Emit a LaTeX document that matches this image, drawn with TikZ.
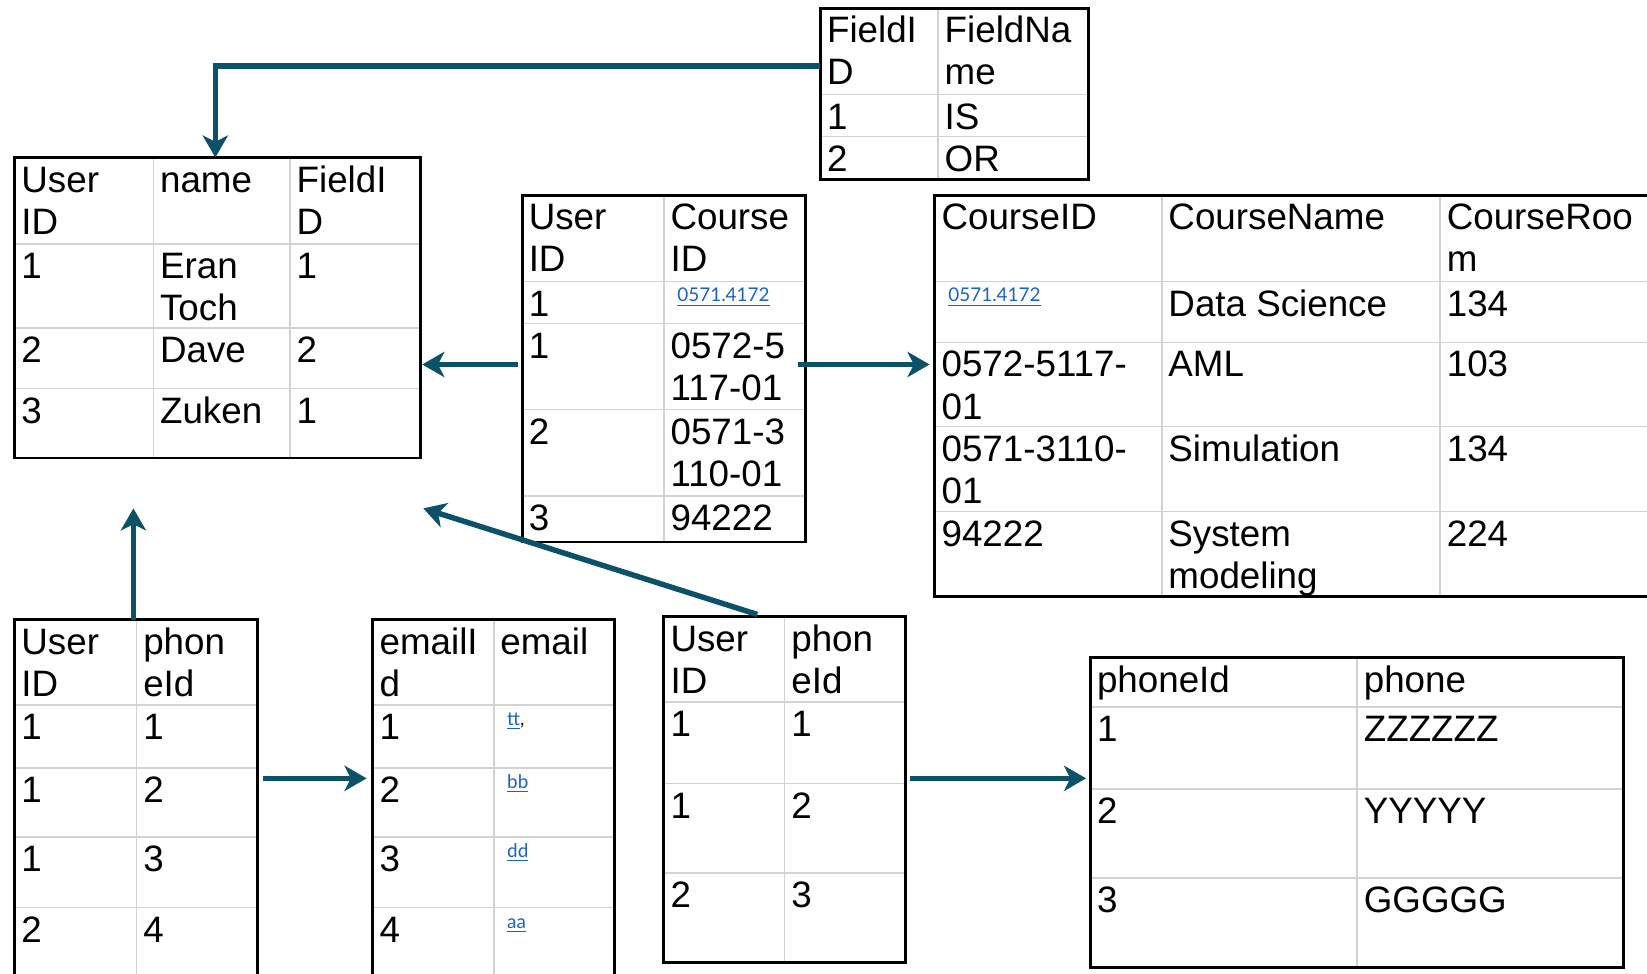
\documentclass[tikz,border=0pt]{standalone}
\usepackage{fontspec}
\setmainfont{Liberation Sans}
\newfontfamily\linkfont{Lato}
\usetikzlibrary{arrows.meta}
\definecolor{fkcol}{HTML}{0B5268}
\definecolor{gridgray}{HTML}{D3D3D3}
\definecolor{linkblue}{HTML}{1A62C8}
\newcommand\cellfont{\fontsize{17.5}{20}\selectfont}
% table cell: column left edge, row top edge, text
\newcommand\tcell[4]{\node[cell] (#1) at ({#2+6},{#3+4.5}) {\strut #4};}
% hyperlink-style cell entry
\newcommand\tlink[4]{\node[linkcell] (#1) at ({#2+12.5},{#3+19.5}) {#4};}
\newcommand\lnk[1]{{\color{linkblue}\underline{#1}}}
\tikzset{
  cell/.style={anchor=north west, inner sep=0pt, align=left, font=\cellfont},
  linkcell/.style={anchor=base west, inner sep=0pt, font=\linkfont\fontsize{9}{11}\selectfont},
  gridline/.style={draw=gridgray, line width=0.8pt},
  tblframe/.style={draw=black, line width=1.4pt},
  fk/.style={draw=fkcol, line width=2.6pt, -{Stealth[length=10.5pt,width=12pt,inset=3pt]}},
}
\begin{document}
\begin{tikzpicture}[x=0.5pt,y=-0.5pt]
\useasboundingbox (0,0) rectangle (1568,927);

% ---------- Fields ----------
\draw[gridline] (893,8) -- (893,171) (781,90) -- (1036,90) (781,130) -- (1036,130);
\draw[tblframe] (781,8) rectangle (1036,171);
\tcell{fa1}{781}{8}{FieldI\\D}   \tcell{fb1}{893}{8}{FieldNa\\me}
\tcell{fa2}{781}{90}{1}          \tcell{fb2}{893}{90}{IS}
\tcell{fa3}{781}{130}{2}         \tcell{fb3}{893}{130}{OR}

% ---------- Users ----------
\draw[gridline] (146,150) -- (146,436) (276,150) -- (276,436)
  (14,232) -- (400,232) (14,312) -- (400,312) (14,370) -- (400,370);
\draw[tblframe] (14,150) rectangle (400,436);
\tcell{ua1}{14}{150}{User\\ID} \tcell{ub1}{146}{150}{name}       \tcell{uc1}{276}{150}{FieldI\\D}
\tcell{ua2}{14}{232}{1}        \tcell{ub2}{146}{232}{Eran\\Toch} \tcell{uc2}{276}{232}{1}
\tcell{ua3}{14}{312}{2}        \tcell{ub3}{146}{312}{Dave}       \tcell{uc3}{276}{312}{2}
\tcell{ua4}{14}{370}{3}        \tcell{ub4}{146}{370}{Zuken}      \tcell{uc4}{276}{370}{1}

% ---------- Enrollment ----------
\draw[gridline] (632,186) -- (632,516)
  (497,268) -- (767,268) (497,308) -- (767,308) (497,390) -- (767,390) (497,472) -- (767,472);
\draw[tblframe] (497,186) rectangle (767,516);
\tcell{ea1}{497}{186}{User\\ID} \tcell{eb1}{632}{186}{Course\\ID}
\tcell{ea2}{497}{268}{1}        \tlink{eb2}{632}{268}{\lnk{0571.4172}}
\tcell{ea3}{497}{308}{1}        \tcell{eb3}{632}{308}{0572-5\\117-01}
\tcell{ea4}{497}{390}{2}        \tcell{eb4}{632}{390}{0571-3\\110-01}
\tcell{ea5}{497}{472}{3}        \tcell{eb5}{632}{472}{94222}

% ---------- Courses ----------
\draw[gridline] (1106,186) -- (1106,568) (1371,186) -- (1371,568)
  (890,268) -- (1568,268) (890,326) -- (1568,326) (890,406) -- (1568,406) (890,487) -- (1568,487);
\draw[tblframe] (1580,186) -- (890,186) -- (890,568) -- (1580,568);
\tcell{ca1}{890}{186}{CourseID}       \tcell{cb1}{1106}{186}{CourseName}      \tcell{cc1}{1371}{186}{CourseRoo\\m}
\tlink{ca2}{890}{268}{\lnk{0571.4172}} \tcell{cb2}{1106}{268}{Data Science}   \tcell{cc2}{1371}{268}{134}
\tcell{ca3}{890}{326}{0572-5117-\\01} \tcell{cb3}{1106}{326}{AML}             \tcell{cc3}{1371}{326}{103}
\tcell{ca4}{890}{406}{0571-3110-\\01} \tcell{cb4}{1106}{406}{Simulation}      \tcell{cc4}{1371}{406}{134}
\tcell{ca5}{890}{487}{94222}          \tcell{cb5}{1106}{487}{System\\modeling} \tcell{cc5}{1371}{487}{224}

% ---------- User phones ----------
\draw[gridline] (130,590) -- (130,940)
  (14,671) -- (245,671) (14,731) -- (245,731) (14,797) -- (245,797) (14,864) -- (245,864);
\draw[tblframe] (14,940) -- (14,590) -- (245,590) -- (245,940);
\tcell{pa1}{14}{590}{User\\ID} \tcell{pb1}{130}{590}{phon\\eId}
\tcell{pa2}{14}{671}{1}        \tcell{pb2}{130}{671}{1}
\tcell{pa3}{14}{731}{1}        \tcell{pb3}{130}{731}{2}
\tcell{pa4}{14}{797}{1}        \tcell{pb4}{130}{797}{3}
\tcell{pa5}{14}{864}{2}        \tcell{pb5}{130}{864}{4}

% ---------- Emails ----------
\draw[gridline] (470,590) -- (470,940)
  (355,671) -- (585,671) (355,731) -- (585,731) (355,797) -- (585,797) (355,864) -- (585,864);
\draw[tblframe] (355,940) -- (355,590) -- (585,590) -- (585,940);
\tcell{ma1}{355}{590}{emailI\\d} \tcell{mb1}{470}{590}{email}
\tcell{ma2}{355}{671}{1}         \tlink{mb2}{470}{671}{\lnk{tt},}
\tcell{ma3}{355}{731}{2}         \tlink{mb3}{470}{731}{\lnk{bb}}
\tcell{ma4}{355}{797}{3}         \tlink{mb4}{470}{797}{\lnk{dd}}
\tcell{ma5}{355}{864}{4}         \tlink{mb5}{470}{864}{\lnk{aa}}

% ---------- Phone owners ----------
\draw[gridline] (747,587) -- (747,916)
  (632,668) -- (862,668) (632,746) -- (862,746) (632,831) -- (862,831);
\draw[tblframe] (632,587) rectangle (862,916);
\tcell{oa1}{632}{587}{User\\ID} \tcell{ob1}{747}{587}{phon\\eId}
\tcell{oa2}{632}{668}{1}        \tcell{ob2}{747}{668}{1}
\tcell{oa3}{632}{746}{1}        \tcell{ob3}{747}{746}{2}
\tcell{oa4}{632}{831}{2}        \tcell{ob4}{747}{831}{3}

% ---------- Phones ----------
\draw[gridline] (1292,626) -- (1292,921)
  (1038,673) -- (1546,673) (1038,751) -- (1546,751) (1038,836) -- (1546,836);
\draw[tblframe] (1038,626) rectangle (1546,921);
\tcell{na1}{1038}{626}{phoneId} \tcell{nb1}{1292}{626}{phone}
\tcell{na2}{1038}{673}{1}       \tcell{nb2}{1292}{673}{ZZZZZZ}
\tcell{na3}{1038}{751}{2}       \tcell{nb3}{1292}{751}{YYYYY}
\tcell{na4}{1038}{836}{3}       \tcell{nb4}{1292}{836}{GGGGG}

% ---------- foreign-key connectors ----------
\coordinate (fields-out)  at (781,63);
\coordinate (users-top)   at (205,150);
\coordinate (enr-left)    at (493,347);
\coordinate (users-right) at (402,347);
\coordinate (enr-right)   at (760,347);
\coordinate (courses-in)  at (885,347);
\coordinate (uphone-top)  at (127,590);
\coordinate (uphone-tip)  at (127,484);
\coordinate (uphone-out)  at (250,741);
\coordinate (email-in)    at (349,741);
\coordinate (owner-top)   at (721,585);
\coordinate (owner-tip)   at (403,484);
\coordinate (owner-out)   at (866,741);
\coordinate (phone-in)    at (1034,741);

\draw[fk] (fields-out) -| (users-top);
\draw[fk] (enr-left) -- (users-right);
\draw[fk] (enr-right) -- (courses-in);
\draw[fk] (uphone-top) -- (uphone-tip);
\draw[fk] (uphone-out) -- (email-in);
\draw[fk] (owner-top) -- (owner-tip);
\draw[fk] (owner-out) -- (phone-in);
\end{tikzpicture}
\end{document}
